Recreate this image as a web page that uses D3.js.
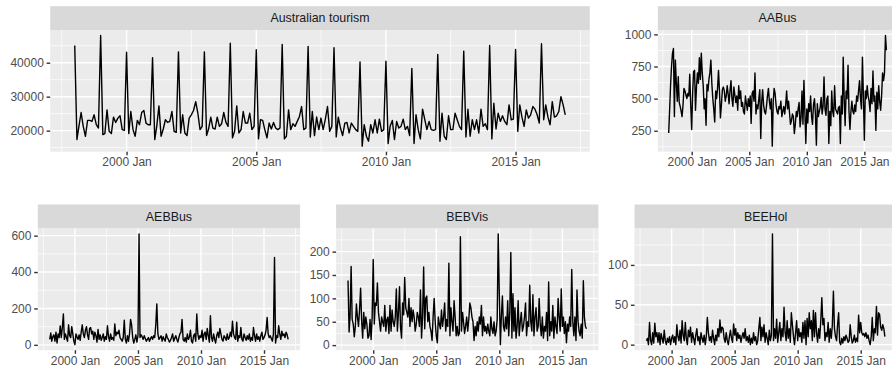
<!DOCTYPE html>
<html lang="en">
<head>
<meta charset="UTF-8">
<title>Australian tourism</title>
<script src="https://d3js.org/d3.v7.min.js"></script>
<style>
  body { margin: 0; background: #fff; }
  svg { display: block; font-family: "Liberation Sans", Arial, sans-serif; }
  .strip text { font-size: 12.4px; fill: #1a1a1a; }
  .axis text { font-size: 12px; fill: #4d4d4d; }
  .axis line { stroke: #333; stroke-width: 1.4; }
</style>
</head>
<body>
<svg id="chart" width="892" height="368"></svg>
<script>
// monthly observations, 1998 Jan .. 2016 Dec
const months = d3.utcMonth.range(new Date(Date.UTC(1998, 0, 1)), new Date(Date.UTC(2017, 0, 1)));

const xTickDates = [Date.UTC(2000, 0, 1), Date.UTC(2005, 0, 1), Date.UTC(2010, 0, 1), Date.UTC(2015, 0, 1)].map(t => new Date(t));
const xTickLabels = ["2000 Jan", "2005 Jan", "2010 Jan", "2015 Jan"];

// one row per year
const australianTourism = [
  45070, 17380, 21260, 25340, 21260, 18350, 23010, 23010, 22720, 24660, 21750, 20770,
  48000, 18830, 19130, 26120, 19800, 19130, 23980, 22420, 23690, 24370, 20290, 20100,
  43100, 19130, 25630, 20290, 18350, 23010, 21750, 25340, 25920, 22230, 21750, 21750,
  41480, 17380, 21260, 27290, 18350, 20480, 23200, 22420, 22720, 25630, 19800, 19500,
  43200, 19320, 24660, 19320, 18540, 23690, 24660, 25920, 28540, 25150, 20290, 21260,
  43200, 18540, 20480, 23980, 20770, 20480, 23980, 21260, 22040, 25340, 22420, 21260,
  45740, 17860, 19800, 27290, 19320, 20290, 25630, 22230, 22230, 25150, 20290, 21260,
  43800, 17570, 23200, 23010, 20290, 17860, 22230, 20480, 22420, 20770, 20290, 20770,
  45360, 17570, 18350, 26120, 20290, 22040, 21260, 22720, 24180, 27090, 20290, 20770,
  44780, 18150, 25630, 18540, 24000, 20300, 23700, 20300, 23400, 27100, 19800, 21260,
  44400, 18160, 23980, 20770, 18540, 22230, 22420, 19320, 22230, 21260, 20290, 19800,
  40200, 15430, 21750, 18350, 16890, 21750, 19320, 23200, 19320, 23400, 19800, 20290,
  40410, 16210, 21260, 23010, 17380, 22720, 20770, 21260, 23400, 20290, 21260, 18540,
  38280, 16210, 24660, 20290, 17570, 26320, 23400, 20290, 22720, 20290, 20100, 20290,
  42450, 16890, 25150, 18350, 17380, 24370, 20290, 20290, 25150, 23200, 21260, 20290,
  43410, 18150, 26320, 18350, 23200, 20290, 23200, 19320, 26320, 21260, 22040, 20290,
  45070, 17570, 28070, 20480, 25150, 22720, 24370, 22720, 21750, 27580, 23200, 23400,
  43900, 19800, 27580, 23980, 21260, 26120, 23690, 24660, 27090, 26320, 24660, 22230,
  45570, 23200, 27580, 23980, 21750, 28550, 23980, 24370, 25630, 30000, 27580, 24660
];

const aaBus = [
  233, 420, 600, 750, 850, 890, 360, 800, 620, 480, 670, 470,
  440, 400, 360, 450, 580, 560, 530, 500, 540, 520, 690, 450,
  259, 550, 710, 720, 410, 590, 700, 620, 818, 650, 854, 700,
  600, 420, 500, 293, 610, 560, 650, 700, 800, 620, 500, 420,
  318, 560, 500, 580, 720, 560, 350, 450, 570, 590, 560, 480,
  520, 600, 540, 460, 560, 640, 500, 440, 590, 530, 470, 520,
  410, 600, 500, 560, 440, 470, 400, 380, 520, 460, 410, 500,
  440, 520, 307, 540, 560, 480, 700, 380, 450, 420, 500, 570,
  190, 480, 570, 450, 400, 380, 440, 520, 580, 480, 420, 500,
  130, 480, 580, 540, 450, 400, 380, 440, 420, 480, 360, 400,
  440, 380, 450, 560, 420, 480, 390, 300, 330, 380, 360, 228,
  300, 400, 360, 420, 470, 280, 350, 560, 300, 642, 390, 150,
  420, 310, 460, 400, 520, 360, 300, 450, 500, 380, 138, 460,
  360, 400, 430, 510, 380, 440, 668, 420, 370, 500, 520, 150,
  400, 290, 560, 400, 360, 600, 420, 400, 380, 430, 440, 150,
  520, 380, 823, 500, 290, 560, 500, 760, 400, 260, 400, 480,
  400, 380, 450, 400, 520, 480, 560, 640, 500, 420, 823, 520,
  176, 560, 500, 600, 520, 480, 400, 580, 460, 715, 480, 520,
  253, 550, 420, 600, 480, 410, 520, 700, 640, 700, 991, 876
];

const aebBus = [
  30, 65, 20, 45, 55, 20, 70, 10, 60, 40, 104, 40,
  95, 170, 30, 60, 40, 20, 110, 50, 40, 100, 60, 20,
  1, 60, 45, 30, 55, 25, 70, 110, 60, 40, 80, 100,
  55, 30, 90, 95, 60, 75, 30, 70, 50, 15, 85, 30,
  55, 25, 40, 60, 20, 45, 30, 105, 45, 20, 60, 30,
  40, 25, 115, 50, 70, 60, 80, 40, 30, 20, 40, 135,
  30, 10, 50, 20, 60, 140, 110, 40, 10, 30, 55, 15,
  50, 610, 40, 55, 45, 30, 50, 35, 20, 30, 40, 20,
  35, 45, 30, 50, 40, 110, 225, 60, 30, 40, 50, 20,
  45, 30, 20, 60, 40, 30, 15, 25, 40, 60, 20, 35,
  50, 30, 15, 40, 60, 70, 140, 30, 20, 40, 15, 60,
  30, 45, 80, 20, 10, 50, 60, 20, 170, 60, 30, 50,
  40, 80, 20, 60, 70, 30, 90, 50, 15, 160, 40, 20,
  60, 30, 10, 50, 70, 40, 90, 60, 30, 20, 50, 40,
  25, 60, 30, 40, 70, 45, 130, 60, 40, 30, 125, 20,
  50, 40, 95, 30, 20, 60, 40, 25, 50, 30, 60, 20,
  40, 25, 95, 50, 20, 60, 30, 45, 20, 50, 70, 30,
  40, 55, 80, 150, 60, 40, 50, 35, 20, 60, 480, 10,
  50, 40, 105, 60, 30, 75, 50, 60, 40, 70, 55, 30
];

const bebVis = [
  138, 28, 60, 168, 55, 45, 18, 40, 88, 60, 40, 75,
  122, 50, 15, 70, 35, 60, 45, 15, 20, 55, 12, 60,
  183, 45, 90, 85, 133, 70, 50, 30, 60, 50, 40, 85,
  30, 55, 60, 25, 85, 30, 75, 50, 40, 60, 120, 30,
  70, 125, 40, 15, 90, 65, 145, 80, 70, 60, 100, 40,
  80, 50, 75, 60, 30, 45, 70, 60, 40, 118, 15, 60,
  167, 35, 100, 105, 50, 70, 40, 30, 10, 60, 100, 50,
  20, 5, 60, 45, 35, 75, 40, 60, 90, 30, 55, 40,
  175, 20, 80, 50, 30, 95, 60, 20, 40, 20, 25, 232,
  30, 70, 50, 25, 40, 60, 30, 55, 90, 80, 60, 50,
  10, 40, 20, 50, 30, 60, 45, 85, 20, 60, 30, 40,
  25, 45, 30, 20, 60, 35, 25, 50, 20, 30, 55, 238,
  110, 1, 60, 105, 40, 30, 60, 35, 95, 20, 70, 198,
  15, 110, 30, 80, 15, 40, 95, 20, 50, 70, 30, 40,
  60, 90, 20, 50, 40, 128, 50, 30, 108, 20, 60, 80,
  30, 40, 100, 45, 20, 60, 15, 40, 30, 70, 10, 135,
  20, 50, 30, 85, 15, 60, 40, 25, 100, 60, 30, 120,
  40, 60, 25, 50, 5, 45, 30, 60, 40, 162, 50, 20,
  60, 10, 118, 50, 30, 20, 45, 15, 138, 60, 40, 35
];

const beeHol = [
  5, 8, 0, 28, 5, 0, 15, 2, 27, 10, 15, 3,
  15, 0, 14, 8, 2, 18, 5, 0, 8, 3, 10, 0,
  8, 12, 3, 10, 0, 25, 10, 5, 18, 2, 30, 12,
  5, 28, 8, 0, 18, 10, 22, 3, 15, 8, 0, 12,
  20, 5, 10, 0, 15, 8, 3, 12, 0, 10, 34, 15,
  5, 10, 3, 18, 8, 0, 12, 5, 20, 10, 31, 15,
  22, 20, 8, 3, 15, 5, 0, 10, 18, 8, 3, 26,
  12, 20, 5, 15, 8, 12, 3, 10, 15, 8, 20, 5,
  10, 3, 12, 0, 8, 2, 15, 5, 10, 0, 5, 20,
  34, 5, 22, 10, 25, 3, 15, 8, 0, 18, 5, 12,
  139, 5, 20, 8, 32, 3, 15, 28, 5, 20, 10, 47,
  15, 5, 30, 8, 20, 3, 40, 25, 10, 0, 15, 30,
  5, 20, 10, 15, 3, 28, 8, 30, 0, 33, 10, 40,
  20, 30, 5, 43, 10, 40, 15, 3, 20, 8, 30, 59,
  25, 33, 5, 15, 10, 28, 3, 20, 8, 25, 67, 20,
  10, 5, 25, 40, 3, 0, 8, 2, 10, 5, 12, 8,
  3, 5, 25, 10, 2, 5, 12, 3, 8, 4, 37, 15,
  28, 15, 12, 14, 10, 15, 8, 12, 5, 0, 10, 34,
  5, 20, 15, 48, 12, 40, 38, 22, 18, 25, 20, 10
];

const panelNames = ["Australian tourism", "AABus", "AEBBus", "BEBVis", "BEEHol"];
const panelSeries = [australianTourism, aaBus, aebBus, bebVis, beeHol];
const panelYTicks = [
  [20000, 30000, 40000],
  [250, 500, 750, 1000],
  [0, 200, 400, 600],
  [0, 50, 100, 150, 200],
  [0, 50, 100]
];

// panel boxes (pixels)
const layout = [
  { x0: 50.2, x1: 589.8, y0: 30, y1: 151.7 },
  { x0: 657.8, x1: 897.3, y0: 30, y1: 151.7 },
  { x0: 37.8, x1: 300.1, y0: 228.3, y1: 350.2 },
  { x0: 336.1, x1: 598.4, y0: 228.3, y1: 350.2 },
  { x0: 634.5, x1: 896.8, y0: 228.3, y1: 350.2 }
];
const stripH = 23.8;

const svg = d3.select("#chart");

function expand([a, b]) {
  const pad = (b - a) * 0.05;
  return [a - pad, b + pad];
}

function midpoints(breaks) {
  const step = breaks[1] - breaks[0];
  const ext = [breaks[0] - step, ...breaks, breaks[breaks.length - 1] + step];
  return d3.pairs(ext).map(([a, b]) => (a + b) / 2);
}

panelNames.forEach((name, i) => {
  const box = layout[i];
  const values = panelSeries[i];
  const data = months.map((m, j) => ({ date: m, value: values[j] }));

  const xDom = expand(d3.extent(months, d => +d));
  const x = d3.scaleUtc().domain(xDom.map(t => new Date(t))).range([box.x0, box.x1]);
  const yDom = expand(d3.extent(values));
  const y = d3.scaleLinear().domain(yDom).range([box.y1, box.y0]);

  const g = svg.append("g");

  // panel background
  g.append("rect")
    .attr("x", box.x0).attr("y", box.y0)
    .attr("width", box.x1 - box.x0).attr("height", box.y1 - box.y0)
    .attr("fill", "#ebebeb");

  // minor grid
  const xMinor = midpoints(xTickDates.map(d => +d)).filter(t => t > xDom[0] && t < xDom[1]);
  const yMinor = midpoints(panelYTicks[i]).filter(v => v > yDom[0] && v < yDom[1]);
  g.selectAll(".xminor").data(xMinor).enter().append("line")
    .attr("x1", d => x(new Date(d))).attr("x2", d => x(new Date(d)))
    .attr("y1", box.y0).attr("y2", box.y1)
    .attr("stroke", "#fff").attr("stroke-width", 0.7);
  g.selectAll(".yminor").data(yMinor).enter().append("line")
    .attr("x1", box.x0).attr("x2", box.x1)
    .attr("y1", d => y(d)).attr("y2", d => y(d))
    .attr("stroke", "#fff").attr("stroke-width", 0.7);

  // major grid
  g.selectAll(".xmajor").data(xTickDates).enter().append("line")
    .attr("x1", d => x(d)).attr("x2", d => x(d))
    .attr("y1", box.y0).attr("y2", box.y1)
    .attr("stroke", "#fff").attr("stroke-width", 1.4);
  g.selectAll(".ymajor").data(panelYTicks[i]).enter().append("line")
    .attr("x1", box.x0).attr("x2", box.x1)
    .attr("y1", d => y(d)).attr("y2", d => y(d))
    .attr("stroke", "#fff").attr("stroke-width", 1.4);

  // series
  g.append("path")
    .datum(data)
    .attr("fill", "none")
    .attr("stroke", "#000")
    .attr("stroke-width", 1.4)
    .attr("stroke-linejoin", "round")
    .attr("d", d3.line().x(d => x(d.date)).y(d => y(d.value)));

  // strip
  const strip = g.append("g").attr("class", "strip");
  strip.append("rect")
    .attr("x", box.x0).attr("y", box.y0 - stripH)
    .attr("width", box.x1 - box.x0).attr("height", stripH)
    .attr("fill", "#d9d9d9");
  strip.append("text")
    .attr("x", (box.x0 + box.x1) / 2)
    .attr("y", box.y0 - stripH / 2)
    .attr("dy", "0.35em")
    .attr("text-anchor", "middle")
    .text(name);

  // axes
  const xAxis = g.append("g")
    .attr("class", "axis")
    .attr("transform", `translate(0,${box.y1})`)
    .call(d3.axisBottom(x).tickValues(xTickDates)
      .tickFormat((d, k) => xTickLabels[k])
      .tickSize(3.6).tickPadding(2.4));
  xAxis.select(".domain").remove();

  const yAxis = g.append("g")
    .attr("class", "axis")
    .attr("transform", `translate(${box.x0},0)`)
    .call(d3.axisLeft(y).tickValues(panelYTicks[i])
      .tickFormat(d3.format("d"))
      .tickSize(3.6).tickPadding(2.8));
  yAxis.select(".domain").remove();

  [xAxis, yAxis].forEach(ax => {
    ax.attr("font-size", null).attr("font-family", null);
    ax.selectAll("text").attr("fill", null);
    ax.selectAll("line").attr("stroke", null);
  });
});
</script>
</body>
</html>
